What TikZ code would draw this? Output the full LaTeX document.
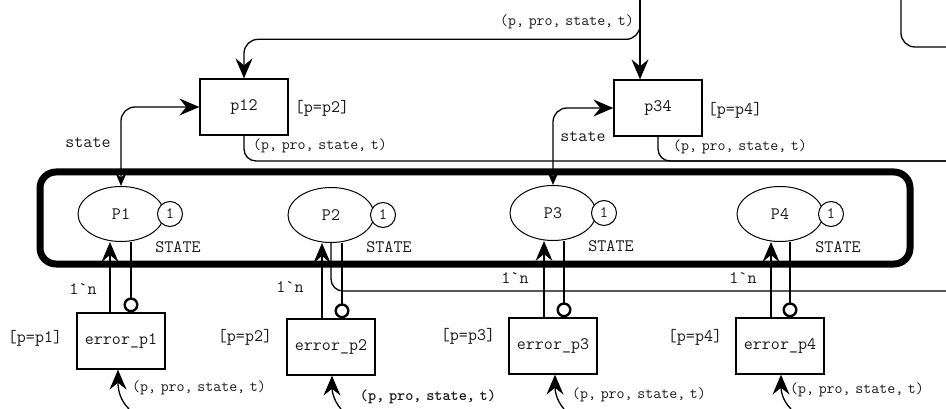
\documentclass[tikz,border=0pt]{standalone}
\usepackage{fontspec}
\usetikzlibrary{arrows.meta,shapes.geometric}
% typewriter face with narrowed word spaces for the arc inscriptions
\newcommand\tuplefont{\ttfamily\fontsize{15.5}{17}\selectfont\spaceskip=0.3em\relax}
\newcommand\tupleboldfont{\ttfamily\bfseries\fontsize{15.5}{17}\selectfont\spaceskip=0.3em\relax}
\begin{document}
\begin{tikzpicture}[x=1pt,y=-1pt,
  bigtip/.tip={Stealth[length=20pt,width=17pt,inset=7pt]},
  smalltip/.tip={Stealth[length=13pt,width=11pt,inset=4.5pt]},
  ringtip/.tip={Circle[open,length=15pt,width=15pt,line width=2.4pt]},
  conn/.style={line width=1.3pt},
  trans/.style={draw, line width=1.3pt, minimum width=88pt, minimum height=56pt,
    inner sep=0pt, font=\ttfamily\fontsize{17.5}{19}\selectfont, text=black!90},
  place/.style={draw, ellipse, line width=1pt, minimum width=86pt, minimum height=55pt,
    inner sep=0pt, font=\ttfamily\fontsize{17.5}{19}\selectfont, text=black!90},
  token/.style={draw, circle, fill=white, line width=1pt, minimum size=25pt,
    inner sep=0pt, font=\ttfamily\fontsize{16}{17}\selectfont, text=black!90},
  lab/.style={font=\ttfamily\fontsize{17.5}{19}\selectfont, text=black!90, inner sep=0pt},
  tuple/.style={font=\tuplefont, text=black!90, inner sep=0pt},
]
\useasboundingbox (0,0) rectangle (946,409);

% the framed group of state places
\node[draw, line width=7pt, rounded corners=16pt, minimum width=870pt,
      minimum height=92pt] (group) at (475,218) {};

% places with their initial markings and colour sets
\node[place] (P1) at (121,214) {P1};
\node[place] (P2) at (331,215) {P2};
\node[place] (P3) at (553,213) {P3};
\node[place] (P4) at (780,214) {P4};
\node[token] (m1) at (170,214) {1};
\node[token] (m2) at (383,215) {1};
\node[token] (m3) at (604,213) {1};
\node[token] (m4) at (831,214) {1};
\node[lab] (s1) at (178,247) {STATE};
\node[lab] (s2) at (389,247) {STATE};
\node[lab] (s3) at (611,246) {STATE};
\node[lab] (s4) at (838,247) {STATE};

% transitions and their guards
\node[trans] (p12) at (244,107) {p12};
\node[trans] (p34) at (658,108) {p34};
\node[trans] (e1) at (121,341) {error\_p1};
\node[trans] (e2) at (331,347) {error\_p2};
\node[trans] (e3) at (553,346) {error\_p3};
\node[trans] (e4) at (780,346) {error\_p4};
\node[lab] (g12) at (322,108) {[p=p2]};
\node[lab] (g34) at (735,110) {[p=p4]};
\node[lab] (g1) at (35,338) {[p=p1]};
\node[lab] (g2) at (245,337) {[p=p2]};
\node[lab] (g3) at (468,336) {[p=p3]};
\node[lab] (g4) at (695,337) {[p=p4]};

% incoming tuple from above
\coordinate (src) at (640,0);
\draw[conn,-bigtip] (src) -- (src |- p34.north);
\draw[conn,-bigtip,rounded corners=14pt] (src) |- ([yshift=39pt]p12.north) -- (p12.north);
\node[tuple] (lt) at (567,22) {(p, pro, state, t)};

% arc entering from the top right
\coordinate (tr) at (901,0);
\coordinate (trr) at (946,47);
\draw[conn,rounded corners=14pt] (tr) |- (trr);

% outgoing tuples of p12 and p34
\coordinate (out1) at (946,161);
\draw[conn,rounded corners=12pt] (p12.south) |- (out1);
\draw[conn,rounded corners=12pt] (p34.south) |- (out1);
\node[tuple] (l12) at (320,146) {(p, pro, state, t)};
\node[tuple] (l34) at (740,147) {(p, pro, state, t)};

% state arcs between places and transitions
\draw[conn,smalltip-bigtip,rounded corners=14pt] (P1.north) |- (p12.west);
\draw[conn,smalltip-bigtip,rounded corners=14pt] (P3.north) |- (p34.west);
\node[lab] (st1) at (88,143) {state};
\node[lab] (st3) at (583,137) {state};

% error transitions: reset arcs and test arcs
\draw[conn,-bigtip] ([xshift=-11pt]e1.north) -- ([xshift=-11pt]P1.south);
\draw[conn,-ringtip] ([xshift=10pt]P1.south) -- ([xshift=10pt]e1.north);
\draw[conn,-bigtip] ([xshift=-9pt]e2.north) -- ([xshift=-9pt]P2.south);
\draw[conn,-ringtip] ([xshift=11pt]P2.south) -- ([xshift=11pt]e2.north);
\draw[conn,-bigtip] ([xshift=-9pt]e3.north) -- ([xshift=-9pt]P3.south);
\draw[conn,-ringtip] ([xshift=11pt]P3.south) -- ([xshift=11pt]e3.north);
\draw[conn,-bigtip] ([xshift=-9pt]e4.north) -- ([xshift=-9pt]P4.south);
\draw[conn,-ringtip] ([xshift=10pt]P4.south) -- ([xshift=10pt]e4.north);
\node[lab] (n1) at (83,289) {1\textasciigrave n};
\node[lab] (n2) at (290,287) {1\textasciigrave n};
\node[lab] (n3) at (515,278) {1\textasciigrave n};
\node[lab] (n4) at (743,278) {1\textasciigrave n};

% outgoing arc of P2
\coordinate (out2) at (946,291);
\draw[conn,rounded corners=12pt] (P2.south) |- (out2);

% incoming tuples from below
\coordinate (b1) at (129,409);
\coordinate (b2) at (341,409);
\coordinate (b3) at (564,409);
\coordinate (b4) at (791,409);
\draw[conn,-bigtip] (b1) .. controls (120,400) and (118,390) .. ([xshift=-3pt]e1.south);
\draw[conn,-bigtip] (b2) .. controls (333,400) and (332,390) .. ([xshift=1pt]e2.south);
\draw[conn,-bigtip] (b3) .. controls (556,400) and (555,390) .. ([xshift=2pt]e3.south);
\draw[conn,-bigtip] (b4) .. controls (782,400) and (781,390) .. ([xshift=1pt]e4.south);
\node[tuple] (lb1) at (199,388) {(p, pro, state, t)};
\node[tuple,font=\tupleboldfont] (lb2) at (428,397) {(p, pro, state, t)};
\node[tuple] (lb3) at (639,395) {(p, pro, state, t)};
\node[tuple] (lb4) at (857,390) {(p, pro, state, t)};
\end{tikzpicture}
\end{document}
